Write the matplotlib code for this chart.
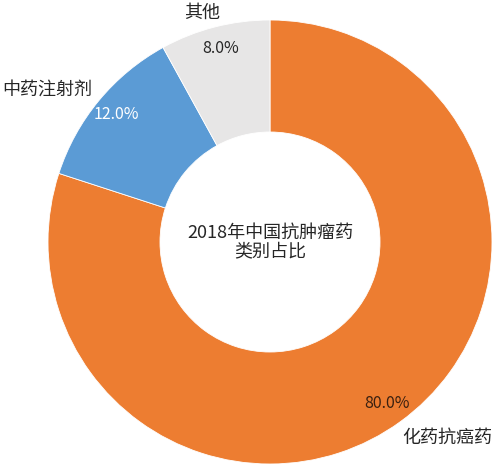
import matplotlib
matplotlib.use("Agg")
import matplotlib.pyplot as plt

plt.rcParams['font.family'] = ['Noto Sans CJK SC', 'DejaVu Sans']

# data
categories = ["化药抗癌药", "中药注射剂", "其他"]
shares = [80.0, 12.0, 8.0]
colors = ["#ED7D31", "#5B9BD5", "#E7E6E6"]
pct_colors = ["#3a2010", "white", "#262626"]
center_title = "2018年中国抗肿瘤药\n类别占比"

# label positions in pixel coords (x, y from top)
label_pos = [(447, 438), (47, 90), (202, 13)]

W, H = 500, 467
fig = plt.figure(figsize=(W / 100, H / 100), dpi=100)
ax = fig.add_axes([0, 0, 1, 1])

cx, cy = 270, H - 242
R = 222
wedges, texts, autotexts = ax.pie(
    shares, colors=colors, startangle=90, counterclock=False,
    center=(cx, cy), radius=R,
    autopct="%.1f%%", pctdistance=0.9,
    wedgeprops=dict(width=112, edgecolor="white", linewidth=0.6),
    textprops=dict(fontsize=11.5),
)
for t, c in zip(autotexts, pct_colors):
    t.set_color(c)

for name, (x, y) in zip(categories, label_pos):
    ax.text(x, H - y, name, ha="center", va="center", fontsize=13, color="#262626")

ax.text(cx, cy, center_title, ha="center", va="center", fontsize=13,
        color="#262626", linespacing=1.05)

ax.set_xlim(0, W)
ax.set_ylim(0, H)
ax.set_aspect("equal")
ax.axis("off")

fig.savefig("out.png", dpi=100, facecolor="white")
